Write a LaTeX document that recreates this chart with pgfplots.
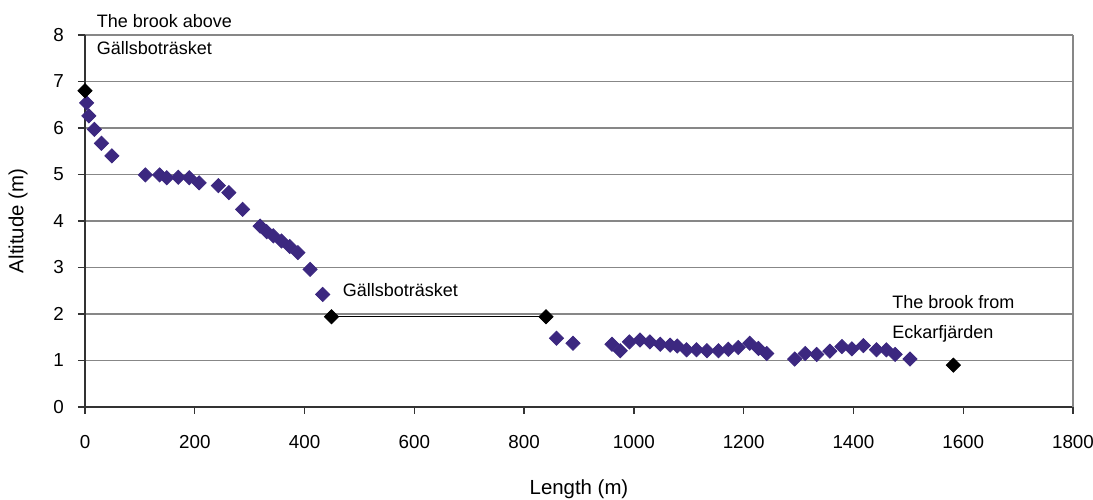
\documentclass[border=0pt]{standalone}
\usepackage{pgfplots}
\pgfplotsset{compat=1.18}
\usepackage{fontspec}
\setmainfont{Liberation Sans}
\definecolor{pts}{RGB}{60,40,128}
\definecolor{gridc}{RGB}{135,135,135}
\begin{document}
\begin{tikzpicture}
\begin{axis}[
  name=ax,
  scale only axis,
  width=494pt, height=186pt,
  xmin=0, xmax=1800, ymin=0, ymax=8,
  xtick={0,200,...,1800}, ytick={0,1,...,8},
  axis x line*=bottom, axis y line*=left,
  axis line style={black!80, line width=0.8pt, -},
  ymajorgrids, grid style={gridc, line width=0.8pt},
  tick align=outside, major tick length=3.5pt,
  tick style={black!80, line width=0.7pt},
  font=\fontsize{9}{11}\selectfont,
  tick label style={font=\fontsize{9.4}{11}\selectfont},
  label style={font=\fontsize{10.2}{12}\selectfont},
  /pgf/number format/assume math mode=true,
  /pgf/number format/1000 sep={},
  xticklabel shift=7pt,
  yticklabel shift=3.5pt,
  xlabel={Length (m)}, ylabel={Altitude (m)},
  xlabel style={at={(axis description cs:0.5,-0.2204)}, anchor=center},
  ylabel style={at={(axis description cs:-0.0678,0.5)}, anchor=center},
  clip=false,
]
\draw[gridc, line width=0.8pt] (rel axis cs:1,0) -- (rel axis cs:1,1);
\addplot[black, line width=0.6pt, forget plot] coordinates {(449,1.94) (840,1.94)};
\addplot[only marks, mark=square*, mark size=2.5pt, mark options={rotate=45, fill=pts, draw=pts}] coordinates {
(3,6.54) (7,6.26) (17,5.97) (30,5.67) (49,5.40)
(110,4.99) (136,4.99) (149,4.93) (170,4.94) (190,4.93) (208,4.82)
(243,4.76) (262,4.61) (287,4.25)
(319,3.89) (331,3.77) (343,3.68) (358,3.57) (373,3.45) (388,3.32)
(410,2.96) (433,2.42)
(859,1.48) (889,1.37)
(960,1.35) (975,1.21) (992,1.40) (1011,1.44) (1029,1.40) (1048,1.35)
(1066,1.33) (1079,1.31) (1096,1.23) (1114,1.23) (1133,1.21) (1154,1.21)
(1172,1.24) (1190,1.28) (1211,1.37) (1227,1.26) (1242,1.15)
(1293,1.03) (1312,1.15) (1333,1.13) (1357,1.20) (1379,1.30) (1397,1.25)
(1418,1.32) (1442,1.23) (1460,1.23) (1476,1.13) (1503,1.03)
};
\addplot[only marks, mark=square*, mark size=2.5pt, mark options={rotate=45, fill=black, draw=black}] coordinates {
(0,6.80) (449,1.94) (840,1.94) (1582,0.90)
};
\node[anchor=base west, inner sep=0pt] at (axis cs:21,8.166) {The brook above};
\node[anchor=base west, inner sep=0pt] at (axis cs:21,7.57) {Gällsboträsket};
\node[anchor=base west, inner sep=0pt] at (axis cs:469,2.37) {Gällsboträsket};
\node[anchor=base west, inner sep=0pt] at (axis cs:1470,2.12) {The brook from};
\node[anchor=base west, inner sep=0pt] at (axis cs:1470,1.477) {Eckarfjärden};
\end{axis}
\pgfresetboundingbox
\path ([shift={(-42.5pt,-46.5pt)}]ax.south west) rectangle ([shift={(10pt,17.5pt)}]ax.north east);
\end{tikzpicture}
\end{document}
